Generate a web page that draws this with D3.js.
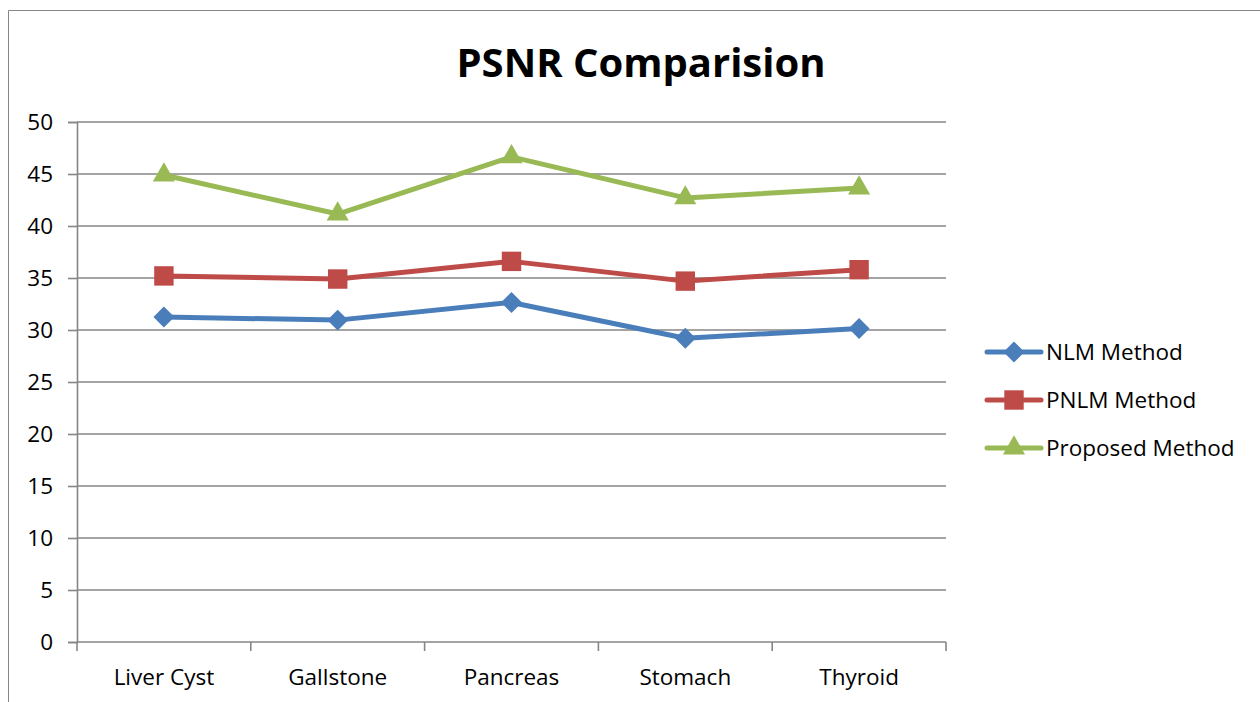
<!DOCTYPE html>
<html>
<head>
<meta charset="utf-8">
<script src="https://cdn.jsdelivr.net/npm/d3@7"></script>
<style>
  body { margin: 0; background: #fff; }
  svg text { font-family: "Open Sans", "DejaVu Sans", sans-serif; fill: #000; }
</style>
</head>
<body>
<div id="chart"></div>
<script>
var categories = ["Liver Cyst", "Gallstone", "Pancreas", "Stomach", "Thyroid"];
var seriesNames = ["NLM Method", "PNLM Method", "Proposed Method"];
var nlmValues = [31.25, 30.95, 32.65, 29.2, 30.15];
var pnlmValues = [35.2, 34.9, 36.6, 34.7, 35.8];
var proposedValues = [44.9, 41.15, 46.65, 42.7, 43.65];
var yTicks = [0, 5, 10, 15, 20, 25, 30, 35, 40, 45, 50];

var series = [
  { name: seriesNames[0], values: nlmValues, color: "#4a7ebb", shape: "diamond" },
  { name: seriesNames[1], values: pnlmValues, color: "#be4b48", shape: "square" },
  { name: seriesNames[2], values: proposedValues, color: "#98b954", shape: "triangle" }
];

var width = 1260, height = 702;
var margin = { left: 77, right: 314, top: 122, bottom: 60 };

var svg = d3.select("#chart").append("svg")
  .attr("width", width).attr("height", height);

// chart frame (left and top edges visible)
svg.append("path")
  .attr("d", "M8.5,702 V10.5 H1260")
  .attr("fill", "none").attr("stroke", "#868686").attr("stroke-width", 1);

var x = d3.scaleBand().domain(categories)
  .range([margin.left, width - margin.right]);
var y = d3.scaleLinear().domain([0, 50])
  .range([height - margin.bottom, margin.top]);

// gridlines
svg.append("g").selectAll("line").data(yTicks.slice(1)).join("line")
  .attr("x1", margin.left).attr("x2", width - margin.right)
  .attr("y1", function(d){ return y(d); }).attr("y2", function(d){ return y(d); })
  .attr("stroke", "#868686").attr("stroke-width", 1.6);

// y axis
var yAxis = svg.append("g").attr("transform", "translate(" + margin.left + ",0)")
  .call(d3.axisLeft(y).tickValues(yTicks).tickSize(9).tickPadding(15));
yAxis.select(".domain").attr("stroke", "#868686").attr("stroke-width", 1.6);
yAxis.selectAll(".tick line").attr("stroke", "#868686").attr("stroke-width", 1.6);
yAxis.selectAll("text").attr("font-size", "22.5px").attr("fill", "#000")
  .attr("font-family", "'Open Sans', sans-serif");

// x axis
var xEdges = categories.map(function(c){ return x(c); }).concat([width - margin.right]);
var xAxisG = svg.append("g");
xAxisG.append("line")
  .attr("x1", margin.left).attr("x2", width - margin.right)
  .attr("y1", y(0)).attr("y2", y(0))
  .attr("stroke", "#868686").attr("stroke-width", 1.6);
xAxisG.selectAll(".xt").data(xEdges).join("line").attr("class", "xt")
  .attr("x1", function(d){ return d; }).attr("x2", function(d){ return d; })
  .attr("y1", y(0)).attr("y2", y(0) + 9)
  .attr("stroke", "#868686").attr("stroke-width", 1.6);
xAxisG.selectAll("text").data(categories).join("text")
  .attr("x", function(d){ return x(d) + x.bandwidth() / 2; })
  .attr("y", y(0) + 43)
  .attr("text-anchor", "middle").attr("font-size", "22.5px")
  .text(function(d){ return d; });

// title
svg.append("text").attr("x", 641).attr("y", 77)
  .attr("text-anchor", "middle").attr("font-size", "40px").attr("font-weight", "bold")
  .text("PSNR Comparision");

var symbolFor = {
  diamond: d3.symbol().type(d3.symbolDiamond2).size(280),
  square: d3.symbol().type(d3.symbolSquare2).size(480),
  triangle: d3.symbol().type(d3.symbolTriangle2).size(350)
};

var line = d3.line()
  .x(function(d, i){ return x(categories[i]) + x.bandwidth() / 2; })
  .y(function(d){ return y(d); });

series.forEach(function(s){
  var g = svg.append("g");
  g.append("path").attr("d", line(s.values))
    .attr("fill", "none").attr("stroke", s.color).attr("stroke-width", 5)
    .attr("stroke-linejoin", "round").attr("stroke-linecap", "round");
  g.selectAll("path.m").data(s.values).join("path").attr("class", "m")
    .attr("transform", function(d, i){
      return "translate(" + (x(categories[i]) + x.bandwidth() / 2) + "," + y(d) + ")";
    })
    .attr("d", symbolFor[s.shape]()).attr("fill", s.color);
});

// legend
var legend = svg.append("g").attr("transform", "translate(987,352)");
var item = legend.selectAll("g").data(series).join("g")
  .attr("transform", function(d, i){ return "translate(0," + i * 48 + ")"; });
item.append("line").attr("x1", 0).attr("x2", 54).attr("y1", 0).attr("y2", 0)
  .attr("stroke", function(d){ return d.color; }).attr("stroke-width", 5)
  .attr("stroke-linecap", "round");
item.append("path").attr("transform", "translate(27,0)")
  .attr("d", function(d){ return symbolFor[d.shape](); })
  .attr("fill", function(d){ return d.color; });
item.append("text").attr("x", 59).attr("y", 8).attr("font-size", "22.5px")
  .text(function(d){ return d.name; });
</script>
</body>
</html>
